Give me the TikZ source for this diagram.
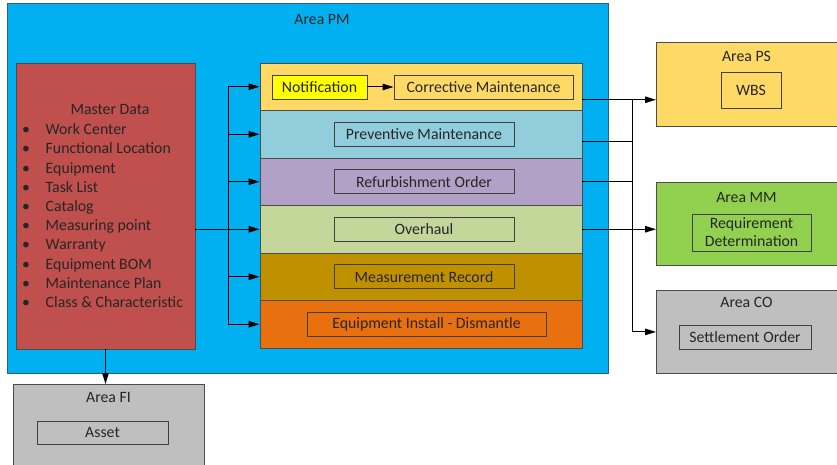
\documentclass[tikz,border=0pt]{standalone}
\usepackage{fontspec}
\setmainfont{Carlito}
\usetikzlibrary{arrows.meta,positioning}

\definecolor{bleuPM}{HTML}{00B0F0}
\definecolor{bordPM}{HTML}{2F5F80}
\definecolor{rougeMD}{HTML}{C0504D}
\definecolor{jauneCM}{HTML}{FFD966}
\definecolor{bleuPV}{HTML}{92CDDC}
\definecolor{violetRO}{HTML}{B2A1C7}
\definecolor{vertOH}{HTML}{C4D79B}
\definecolor{orMR}{HTML}{BF9000}
\definecolor{orangeEI}{HTML}{E8700F}
\definecolor{jauneNO}{HTML}{FFFF00}
\definecolor{vertMM}{HTML}{92D050}
\definecolor{grisCO}{HTML}{BFBFBF}

\newcommand{\puce}{\makebox[23.7pt][l]{\textbullet}}

\begin{document}
\begin{tikzpicture}[x=1pt,y=-1pt,
   every node/.style={font=\fontsize{15.8}{18}\selectfont, text=black!85},
   zone/.style={draw=black!70, line width=0.8pt, inner sep=0pt},
   bande/.style={zone, minimum width=322pt, minimum height=47.5pt},
   boite/.style={draw=black!75, line width=0.8pt, inner sep=0pt, minimum height=24pt},
   article/.style={anchor=west, text height=11pt, text depth=3.5pt},
   fleche/.style={-{Triangle[length=11pt,width=6.5pt]}, line width=1pt},
   trait/.style={line width=1pt}]

\useasboundingbox (0,0) rectangle (837,465);

%% Area PM
   \node [zone, draw=bordPM, fill=bleuPM, minimum width=601pt, minimum height=370pt] (pm) at (307.5,188) {};
   \node (titrePM) at (322,19) {Area PM};

%% Master Data
   \node [zone, fill=rougeMD, minimum width=179pt, minimum height=286pt] (md) at (105.5,206) {};
   \node (titreMD) at (110,109) {Master Data};
   \node [article] (it1) at (18.5,131) {\puce Work Center};
   \node [article] (it2) at (18.5,150.2) {\puce Functional Location};
   \node [article] (it3) at (18.5,169.4) {\puce Equipment};
   \node [article] (it4) at (18.5,188.6) {\puce Task List};
   \node [article] (it5) at (18.5,207.8) {\puce Catalog};
   \node [article] (it6) at (18.5,227) {\puce Measuring point};
   \node [article] (it7) at (18.5,246.2) {\puce Warranty};
   \node [article] (it8) at (18.5,265.4) {\puce Equipment BOM};
   \node [article] (it9) at (18.5,284.6) {\puce Maintenance Plan};
   \node [article] (it10) at (18.5,303.8) {\puce Class \& Characteristic};

%% bandes des ordres
   \node [bande, fill=jauneCM] (b1) at (421,86.75) {};
   \node [bande, fill=bleuPV, below=-0.8pt of b1] (b2) {};
   \node [bande, fill=violetRO, below=-0.8pt of b2] (b3) {};
   \node [bande, fill=vertOH, below=-0.8pt of b3] (b4) {};
   \node [bande, fill=orMR, below=-0.8pt of b4] (b5) {};
   \node [bande, fill=orangeEI, below=-0.8pt of b5] (b6) {};

   \node [boite, fill=jauneNO, minimum width=95pt] (notif) at (319.5,87) {Notification};
   \node [boite, fill=jauneCM, minimum width=179pt] (cm) at (483.5,87) {Corrective Maintenance};
   \draw [fleche] (notif) -- (cm);
   \node [boite, fill=bleuPV, minimum width=180pt] (pv) at ([xshift=3pt]b2.center) {Preventive Maintenance};
   \node [boite, fill=violetRO, minimum width=180pt] (ro) at ([xshift=3pt]b3.center) {Refurbishment Order};
   \node [boite, fill=vertOH, minimum width=180pt] (oh) at ([xshift=3pt]b4.center) {Overhaul};
   \node [boite, fill=orMR, minimum width=180pt] (mr) at ([xshift=3pt]b5.center) {Measurement Record};
   \node [boite, fill=orangeEI, minimum width=239pt] (ei) at ([xshift=5.5pt]b6.center) {Equipment Install - Dismantle};

%% fleches de gauche
   \coordinate (busG) at (228,0);
   \draw [trait] (md.east |- b4.west) -- (busG |- b4.west);
   \draw [trait] (busG |- b1.west) -- (busG |- b6.west);
   \draw [fleche] (busG |- b1.west) -- (b1.west);
   \draw [fleche] (busG |- b2.west) -- (b2.west);
   \draw [fleche] (busG |- b3.west) -- (b3.west);
   \draw [fleche] (busG |- b4.west) -- (b4.west);
   \draw [fleche] (busG |- b5.west) -- (b5.west);
   \draw [fleche] (busG |- b6.west) -- (b6.west);

%% zones externes
   \node [zone, fill=jauneCM, minimum width=182pt, minimum height=84pt, anchor=north west] (ps) at (656,42) {};
   \node (titrePS) at (746.5,56) {Area PS};
   \node [boite, fill=jauneCM, minimum width=60pt, minimum height=36pt] (wbs) at (751,90) {WBS};

   \node [zone, fill=vertMM, minimum width=182pt, minimum height=83pt, anchor=north west] (mm) at (656,182) {};
   \node (titreMM) at (746.5,197) {Area MM};
   \node [boite, fill=vertMM, minimum width=119pt, minimum height=37pt, align=center] (rd) at (751.5,232.5) {Requirement\\Determination};

   \node [zone, fill=grisCO, minimum width=182pt, minimum height=83pt, anchor=north west] (co) at (656,290) {};
   \node (titreCO) at (746.5,302) {Area CO};
   \node [boite, fill=grisCO, minimum width=132pt] (so) at (745,337) {Settlement Order};

   \node [zone, fill=grisCO, minimum width=191pt, minimum height=90pt, anchor=north west] (fi) at (13,384) {};
   \node (titreFI) at (108.5,397) {Area FI};
   \node [boite, fill=grisCO, minimum width=131pt, minimum height=23pt] (asset) at (102.5,432.5) {Asset};

%% fleches de droite
   \coordinate (busD) at (632,0);
   \coordinate (d1) at ([yshift=-13pt]b1.east);
   \coordinate (d2) at ([yshift=-7pt]b2.east);
   \draw [fleche] (d1) -- (d1 -| ps.west);
   \draw [trait] (d2) -- (d2 -| busD);
   \draw [trait] (b3.east) -- (b3.east -| busD);
   \draw [fleche] (b4.east) -- (b4.east -| mm.west);
   \draw [trait] (d1 -| busD) -- (busD |- co.west);
   \draw [fleche] (busD |- co.west) -- (co.west);

   \draw [fleche] (md.south) -- (md.south |- fi.north);

\end{tikzpicture}
\end{document}
